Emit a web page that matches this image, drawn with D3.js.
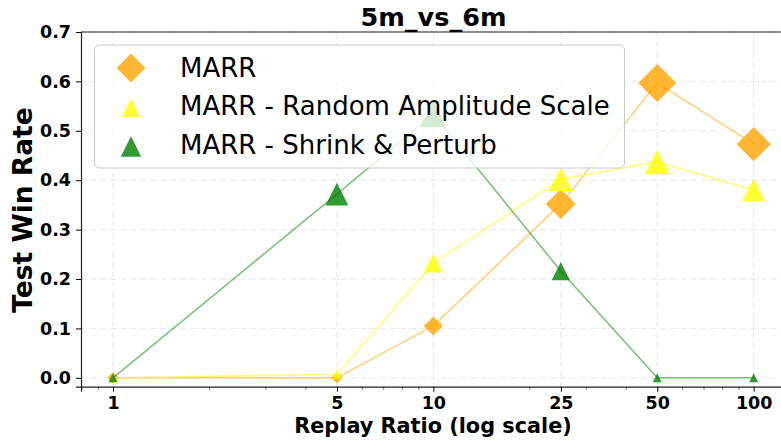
<!DOCTYPE html>
<html>
<head>
<meta charset="utf-8">
<script src="https://cdn.jsdelivr.net/npm/d3@7"></script>
<style>
  body { margin: 0; background: #fff; }
  svg { display: block; font-family: "DejaVu Sans", sans-serif; }
  .tick text { font-family: "DejaVu Sans", sans-serif; font-size: 17.5px; font-weight: bold; }
</style>
</head>
<body>
<div id="chart"></div>
<script>
// replay ratios on the x axis
const ratios = [1, 5, 10, 25, 50, 100];
const yTicks = [0.0, 0.1, 0.2, 0.3, 0.4, 0.5, 0.6, 0.7];
const minorTicks = [0.8, 0.9, 2, 3, 4, 6, 7, 8, 9, 20, 30, 40, 60, 70, 80, 90];

// test win rates
const marr = [0.0, 0.0, 0.105, 0.352, 0.597, 0.473];
const randomAmp = [0.0, 0.007, 0.232, 0.402, 0.437, 0.38];
const shrinkPerturb = [0.0, 0.372, 0.534, 0.216, 0.0, 0.0];

const seriesNames = ['MARR', 'MARR - Random Amplitude Scale', 'MARR - Shrink & Perturb'];

const W = 781, H = 441;
const margin = { top: 32, left: 81, bottom: 386.7 };

const x = d3.scaleLog()
  .domain([Math.pow(10, -0.1), Math.pow(10, 2.1)])
  .range([margin.left, margin.left + 704.7]);

const y = d3.scaleLinear()
  .domain([-0.018, 0.7])
  .range([margin.bottom, margin.top]);

// marker area grows with the value (like matplotlib s=...)
const diamondSize = v => Math.sqrt(130 + 2200 * v);  // full diagonal
const triSize = v => Math.sqrt(81 + 1181 * v);       // width = height

const svg = d3.select('#chart').append('svg')
  .attr('width', W)
  .attr('height', H);

// grid
const grid = svg.append('g').attr('stroke', '#d9d9d9').attr('stroke-width', 0.8)
  .attr('stroke-dasharray', '5,2,1,2').attr('opacity', 0.8);
grid.selectAll('.gx').data(ratios).enter().append('line')
  .attr('x1', d => x(d)).attr('x2', d => x(d))
  .attr('y1', margin.top).attr('y2', margin.bottom);
grid.selectAll('.gy').data(yTicks).enter().append('line')
  .attr('x1', margin.left).attr('x2', W)
  .attr('y1', d => y(d)).attr('y2', d => y(d));

function diamond(s) {
  const r = s / 2;
  return `M0,${-r}L${r},0L0,${r}L${-r},0Z`;
}
function triangle(s) {
  const r = s / 2;
  return `M0,${-r}L${r},${r}L${-r},${r}Z`;
}

const series = [
  { name: seriesNames[0], values: marr, color: 'orange', shape: 'diamond' },
  { name: seriesNames[1], values: randomAmp, color: 'yellow', shape: 'triangle' },
  { name: seriesNames[2], values: shrinkPerturb, color: 'green', shape: 'triangle' }
];

const line = d3.line().x((d, i) => x(ratios[i])).y(d => y(d));

series.forEach(s => {
  const g = svg.append('g');
  g.append('path')
    .datum(s.values)
    .attr('d', line)
    .attr('fill', 'none')
    .attr('stroke', s.color)
    .attr('stroke-opacity', 0.5)
    .attr('stroke-width', 1.6);
  g.selectAll('path.m')
    .data(s.values)
    .enter()
    .append('path')
    .attr('class', 'm')
    .attr('transform', (d, i) => `translate(${x(ratios[i])},${y(d)})`)
    .attr('d', d => s.shape === 'diamond' ? diamond(diamondSize(d)) : triangle(triSize(d)))
    .attr('fill', s.color)
    .attr('fill-opacity', 0.8);
});

// axes
const xAxis = svg.append('g')
  .attr('transform', `translate(0,${margin.bottom})`)
  .call(d3.axisBottom(x).tickValues(ratios).tickFormat(d3.format('d')).tickSize(5).tickPadding(5));
xAxis.select('.domain').attr('stroke', '#222').attr('stroke-width', 1.2);
xAxis.selectAll('text').attr('fill', '#000');

svg.append('g')
  .attr('transform', `translate(0,${margin.bottom})`)
  .selectAll('line').data(minorTicks).enter().append('line')
  .attr('x1', d => x(d)).attr('x2', d => x(d))
  .attr('y1', 0).attr('y2', 3)
  .attr('stroke', '#222').attr('stroke-width', 0.7);

const yAxis = svg.append('g')
  .attr('transform', `translate(${margin.left},0)`)
  .call(d3.axisLeft(y).tickValues(yTicks).tickFormat(d3.format('.1f')).tickSize(5).tickPadding(5));
yAxis.select('.domain').attr('stroke', '#222').attr('stroke-width', 1.2);
yAxis.selectAll('text').attr('fill', '#000');

// top spine
svg.append('line')
  .attr('x1', margin.left).attr('x2', W)
  .attr('y1', margin.top).attr('y2', margin.top)
  .attr('stroke', '#222').attr('stroke-width', 1.2);

// legend
const legend = svg.append('g');
legend.append('rect')
  .attr('x', 94.5).attr('y', 45)
  .attr('width', 530).attr('height', 123)
  .attr('rx', 5)
  .attr('fill', '#fff').attr('fill-opacity', 0.8)
  .attr('stroke', '#ccc').attr('stroke-width', 1);

const legendSizes = [29, 18.5, 20.5];
series.forEach((s, i) => {
  const cy = 68 + i * 38.8;
  legend.append('path')
    .attr('transform', `translate(131,${s.shape === 'diamond' ? cy : cy + 1})`)
    .attr('d', s.shape === 'diamond' ? diamond(legendSizes[i]) : triangle(legendSizes[i]))
    .attr('fill', s.color)
    .attr('fill-opacity', 0.8);
  legend.append('text')
    .attr('x', 180)
    .attr('y', cy + 8.5)
    .attr('font-size', '26px')
    .attr('fill', '#000')
    .text(s.name);
});

// title and axis labels
svg.append('text')
  .attr('x', 433.5).attr('y', 26)
  .attr('text-anchor', 'middle')
  .attr('font-size', '25.5px').attr('font-weight', 'bold')
  .text('5m_vs_6m');

svg.append('text')
  .attr('transform', 'translate(31.5,210) rotate(-90)')
  .attr('text-anchor', 'middle')
  .attr('font-size', '26.5px').attr('font-weight', 'bold')
  .text('Test Win Rate');

svg.append('text')
  .attr('x', 433).attr('y', 433)
  .attr('text-anchor', 'middle')
  .attr('font-size', '20.8px').attr('font-weight', 'bold')
  .text('Replay Ratio (log scale)');
</script>
</body>
</html>
